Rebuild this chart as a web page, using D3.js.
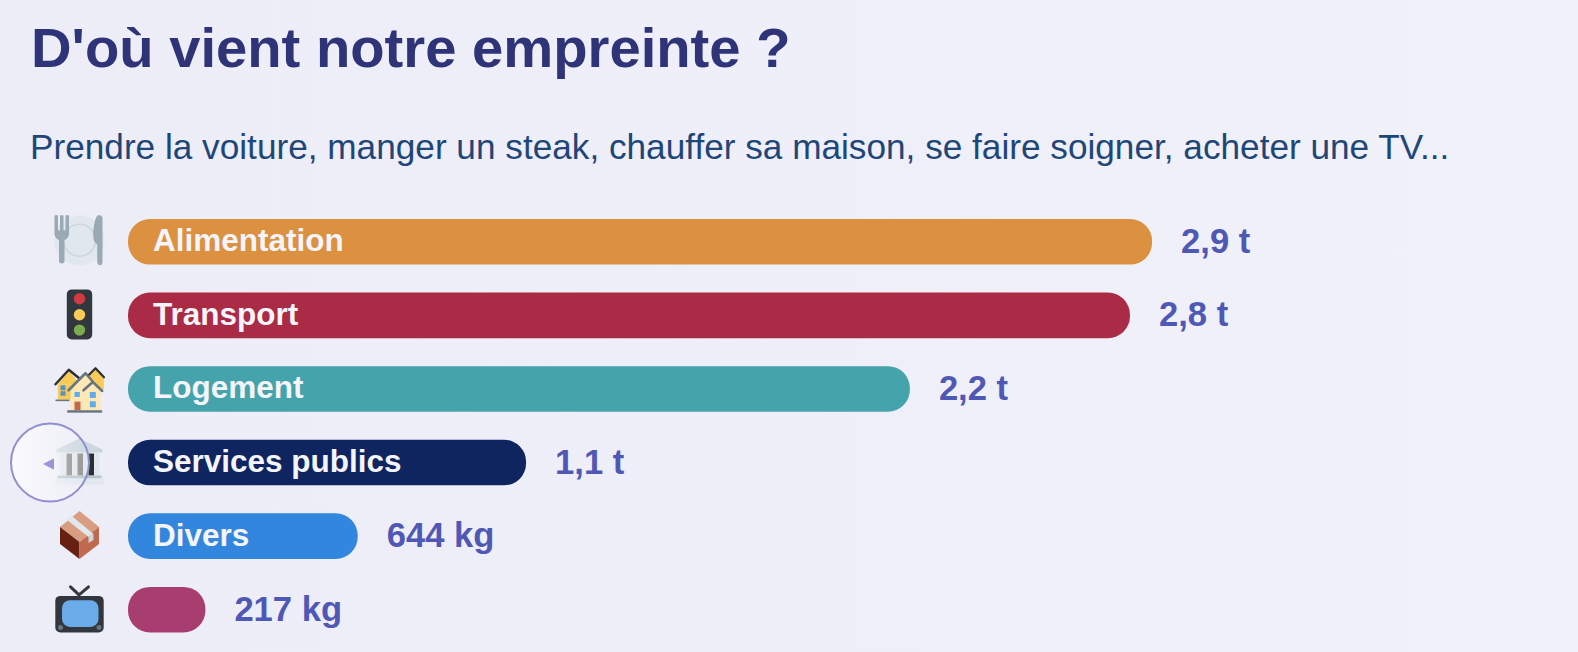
<!DOCTYPE html>
<html lang="fr">
<head>
<meta charset="utf-8">
<title>D'où vient notre empreinte ?</title>
<script src="https://cdn.jsdelivr.net/npm/d3@7"></script>
<style>
  html, body { margin: 0; padding: 0; background: #edeef8; overflow: hidden; }
  svg { display: block; font-family: "Liberation Sans", Arial, sans-serif; }
</style>
</head>
<body>
<svg id="chart" width="1578" height="652"></svg>
<script>
//Chart values, in kg of CO2e
var categories = ["Alimentation", "Transport", "Logement", "Services publics", "Divers", "Numérique"];
var values = [2871, 2809, 2192, 1116, 644, 217];
var colors = ["#db9140", "#a92b45", "#45a3ac", "#0f2560", "#3386de", "#a83e70"];
var icons = ["plate", "light", "houses", "bank", "box", "tv"];

var titleText = "D'où vient notre empreinte ?";
var subtitleText = "Prendre la voiture, manger un steak, chauffer sa maison, se faire soigner, acheter une TV...";

var svg = d3.select("#chart");

//Background gets very slightly lighter towards the right
var defs = svg.append("defs");
var bg = defs.append("linearGradient").attr("id", "bg");
bg.append("stop").attr("offset", "0%").attr("stop-color", "#ecedf7");
bg.append("stop").attr("offset", "100%").attr("stop-color", "#f0f1f9");

var handleFill = defs.append("linearGradient").attr("id", "handle-fill");
handleFill.append("stop").attr("offset", "0%").attr("stop-color", "#fff").attr("stop-opacity", 0.75);
handleFill.append("stop").attr("offset", "100%").attr("stop-color", "#fff").attr("stop-opacity", 0.05);

svg.append("rect").attr("width", 1578).attr("height", 652).attr("fill", "url(#bg)");

//Bars start at x = 128, 1000 kg is about 357 px
var x = d3.scaleLinear().domain([0, 1000]).range([128, 484.7]);
var y = d3.scaleBand().domain(categories).range([219, 632.5]).paddingInner(0.38).paddingOuter(0);

function formatValue(v) {
  if (v >= 1000) return (v / 1000).toFixed(1).replace(".", ",") + " t";
  return v + " kg";
}

svg.append("text")
  .attr("x", 31)
  .attr("y", 67)
  .attr("font-size", 56.2)
  .attr("font-weight", "bold")
  .attr("fill", "#2f3378")
  .text(titleText);

svg.append("text")
  .attr("x", 30)
  .attr("y", 159)
  .attr("font-size", 35.2)
  .attr("fill", "#1f4679")
  .text(subtitleText);

var rows = svg.selectAll("g.row")
  .data(categories)
  .enter().append("g")
  .attr("class", "row");

rows.append("rect")
  .attr("x", x(0))
  .attr("y", function(d) { return y(d); })
  .attr("width", function(d, i) { return x(values[i]) - x(0); })
  .attr("height", y.bandwidth())
  .attr("rx", 22)
  .attr("fill", function(d, i) { return colors[i]; });

rows.append("text")
  .attr("class", "name")
  .attr("x", x(0) + 25)
  .attr("y", function(d) { return y(d) + y.bandwidth() / 2; })
  .attr("dy", "0.3em")
  .attr("font-size", 31.5)
  .attr("font-weight", "bold")
  .attr("fill", "#f4f4fb")
  .text(function(d) { return d; });

//Names that do not fit in their bar are not shown
rows.select("text.name").each(function(d, i) {
  if (this.getComputedTextLength() > x(values[i]) - x(0) - 30) d3.select(this).remove();
});

rows.append("text")
  .attr("x", function(d, i) { return x(values[i]) + 29; })
  .attr("y", function(d) { return y(d) + y.bandwidth() / 2; })
  .attr("dy", "0.32em")
  .attr("font-size", 34.6)
  .attr("font-weight", "bold")
  .attr("fill", "#4f58b5")
  .text(function(d, i) { return formatValue(values[i]); });

//Icons, each one drawn around its own centre
function box(g, bx, by, w, h, fill, r) {
  return g.append("rect").attr("x", bx).attr("y", by).attr("width", w).attr("height", h).attr("rx", r || 0).attr("fill", fill);
}
function shape(g, d, fill) {
  return g.append("path").attr("d", d).attr("fill", fill);
}
function line(g, d, stroke, w) {
  return g.append("path").attr("d", d).attr("fill", "none").attr("stroke", stroke).attr("stroke-width", w).attr("stroke-linejoin", "round").attr("stroke-linecap", "round");
}

var iconDraw = {
  plate: function(g) {
    g = g.append("g").attr("transform", "translate(0,-1.5)");
    box(g, -25, -25, 50, 50, "#e1e8ed", 24);
    g.append("circle").attr("r", 16).attr("fill", "none").attr("stroke", "#ccd6dd").attr("stroke-width", 1.5);
    shape(g, "M-25,-25h3.500v15h2v-15h3.500v15h2v-15h3.500v18c0,4 -3,6 -4.500,7v21c0,3 -5.500,3 -5.500,0v-21c-1.500,-1 -4.500,-3 -4.500,-7z", "#99aab5");
    shape(g, "M19,-25c4,0 4,2 4,4v43c0,4 -5.300,4 -5.300,0v-18c-2,-1 -4,-4 -4,-9c0,-8 2,-20 5.300,-20z", "#99aab5");
  },
  light: function(g) {
    g = g.append("g").attr("transform", "translate(0,-1)");
    box(g, -12.7, -25, 25.4, 50, "#31373d", 5);
    g.selectAll("circle").data([["#cf3b44", -15.7], ["#f8ca57", 0.3], ["#7aab50", 15.7]]).enter().append("circle")
      .attr("cy", function(d) { return d[1]; }).attr("r", 5.7).attr("fill", function(d) { return d[0]; });
  },
  houses: function(g) {
    g = g.append("g").attr("transform", "translate(0,1.3)");
    shape(g, "M8,-14l8,-8l8.300,9v12h-16.300z", "#f8ca57");
    line(g, "M9,-15l7,-7l8.500,9", "#292f33", 2.2);
    box(g, -21.7, -6, 22, 15.3, "#f8ca57");
    shape(g, "M-21.700,-6l11,-14l11,14z", "#f8ca57");
    line(g, "M-24,-6l13.300,-14.500l11,9", "#292f33", 2.4);
    box(g, -19, -5, 5, 5, "#5b90c4");
    box(g, -19, 1, 5, 4.5, "#5b90c4");
    box(g, -24, 9.3, 14, 1.6, "#66757f");
    shape(g, "M-9,1l15,-18l7,9l8,8v20h-30z", "#ffe8b6");
    line(g, "M-11,0l17,-17l7,8", "#66757f", 2.6);
    line(g, "M4,0l9.300,-8.300l9.400,9", "#66757f", 2.6);
    box(g, -5, 1.7, 5.3, 5, "#5dadec");
    box(g, 10.3, 1.7, 6, 6, "#5dadec");
    box(g, 10.3, 11, 6, 6, "#5dadec");
    box(g, -5, 11.3, 6, 8.700, "#c1694f");
    box(g, -12.3, 20, 35, 2.4, "#66757f");
  },
  bank: function(g) {
    g = g.append("g").attr("transform", "translate(0,-2)");
    shape(g, "M0,-22l23,11v3h-46v-3z", "#ccd6dd");
    box(g, -20, -8, 40, 26, "#e1e8ed");
    box(g, -13, -7, 5.5, 22, "#8e8e8e");
    box(g, -2, -7, 5.5, 22, "#8e8e8e");
    box(g, 9, -7, 5.5, 22, "#292f33");
    box(g, -22, 15, 44, 3, "#b8c4cc");
    box(g, -24, 18, 48, 6, "#e1e8ed");
  },
  box: function(g) {
    g = g.append("g").attr("transform", "translate(0,-1)");
    shape(g, "M0,-24l19.500,16l-19.500,15l-19.500,-15z", "#d99e82");
    shape(g, "M-19.500,-8l19.500,15v17l-19.500,-15z", "#662113");
    shape(g, "M19.500,-8v17l-19.500,15v-17z", "#c1694f");
    shape(g, "M-13,-15.700l5,-3.600l22,18.300l-5,3z", "#e1e8ed");
    shape(g, "M9,2l5,-3v6l-5,3z", "#ccd6dd");
  },
  tv: function(g) {
    line(g, "M-9,-22.800l8.500,8l9.500,-8", "#31373d", 3);
    box(g, -24.2, -13.8, 48.4, 36.600, "#31373d", 5);
    box(g, -17.5, -9.5, 36.5, 26.700, "#6aabe9", 8);
    g.append("circle").attr("cx", -19).attr("cy", 17.7).attr("r", 2.5).attr("fill", "#66757f");
    g.append("circle").attr("cx", 19.500).attr("cy", 17.7).attr("r", 2.5).attr("fill", "#66757f");
  }
};

rows.append("g")
  .attr("transform", function(d) { return "translate(79.5," + (y(d) + y.bandwidth() / 2) + ")"; })
  .each(function(d, i) { iconDraw[icons[i]](d3.select(this)); });

//Round hover handle sitting on the services publics icon
var handle = svg.append("g")
  .attr("transform", "translate(50," + (y("Services publics") + y.bandwidth() / 2) + ")");
handle.append("circle")
  .attr("r", 39)
  .attr("fill", "url(#handle-fill)")
  .attr("stroke", "#8f8fd2")
  .attr("stroke-width", 2);
handle.append("path")
  .attr("d", "M-7,1.500l11,-5.700v11.500z")
  .attr("fill", "#9797d6");
</script>
</body>
</html>
